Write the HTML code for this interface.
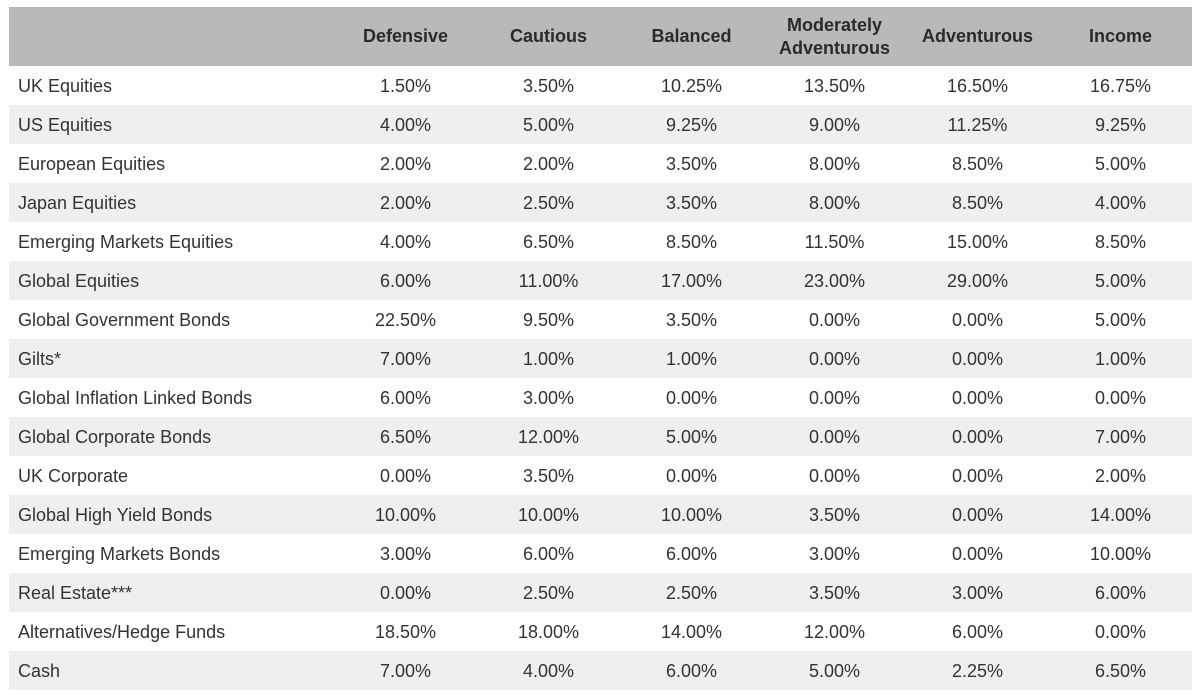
<!DOCTYPE html>
<html><head><meta charset="utf-8"><style>
body{margin:0;background:#fff;width:1197px;height:695px;overflow:hidden;font-family:"Liberation Sans",sans-serif;color:#333}
table{position:absolute;left:9px;top:7px;border-collapse:collapse;table-layout:fixed;width:1183px}
th{background:#b9b9b9;height:59px;font-size:18px;font-weight:bold;color:#2a2a2a;text-align:center;line-height:23px;padding:0}
td{height:39px;font-size:18px;text-align:center;padding:2px 0 0 0;box-sizing:border-box}
td:first-child{text-align:left;padding-left:9px}
tr:nth-child(even) td{background:#efefef}
</style></head><body>
<table>
<colgroup><col style="width:325px"><col style="width:143px"><col style="width:143px"><col style="width:143px"><col style="width:143px"><col style="width:143px"><col style="width:143px"></colgroup>
<thead><tr><th></th><th>Defensive</th><th>Cautious</th><th>Balanced</th><th>Moderately<br>Adventurous</th><th>Adventurous</th><th>Income</th></tr></thead>
<tbody>
<tr><td>UK Equities</td><td>1.50%</td><td>3.50%</td><td>10.25%</td><td>13.50%</td><td>16.50%</td><td>16.75%</td></tr>
<tr><td>US Equities</td><td>4.00%</td><td>5.00%</td><td>9.25%</td><td>9.00%</td><td>11.25%</td><td>9.25%</td></tr>
<tr><td>European Equities</td><td>2.00%</td><td>2.00%</td><td>3.50%</td><td>8.00%</td><td>8.50%</td><td>5.00%</td></tr>
<tr><td>Japan Equities</td><td>2.00%</td><td>2.50%</td><td>3.50%</td><td>8.00%</td><td>8.50%</td><td>4.00%</td></tr>
<tr><td>Emerging Markets Equities</td><td>4.00%</td><td>6.50%</td><td>8.50%</td><td>11.50%</td><td>15.00%</td><td>8.50%</td></tr>
<tr><td>Global Equities</td><td>6.00%</td><td>11.00%</td><td>17.00%</td><td>23.00%</td><td>29.00%</td><td>5.00%</td></tr>
<tr><td>Global Government Bonds</td><td>22.50%</td><td>9.50%</td><td>3.50%</td><td>0.00%</td><td>0.00%</td><td>5.00%</td></tr>
<tr><td>Gilts*</td><td>7.00%</td><td>1.00%</td><td>1.00%</td><td>0.00%</td><td>0.00%</td><td>1.00%</td></tr>
<tr><td>Global Inflation Linked Bonds</td><td>6.00%</td><td>3.00%</td><td>0.00%</td><td>0.00%</td><td>0.00%</td><td>0.00%</td></tr>
<tr><td>Global Corporate Bonds</td><td>6.50%</td><td>12.00%</td><td>5.00%</td><td>0.00%</td><td>0.00%</td><td>7.00%</td></tr>
<tr><td>UK Corporate</td><td>0.00%</td><td>3.50%</td><td>0.00%</td><td>0.00%</td><td>0.00%</td><td>2.00%</td></tr>
<tr><td>Global High Yield Bonds</td><td>10.00%</td><td>10.00%</td><td>10.00%</td><td>3.50%</td><td>0.00%</td><td>14.00%</td></tr>
<tr><td>Emerging Markets Bonds</td><td>3.00%</td><td>6.00%</td><td>6.00%</td><td>3.00%</td><td>0.00%</td><td>10.00%</td></tr>
<tr><td>Real Estate***</td><td>0.00%</td><td>2.50%</td><td>2.50%</td><td>3.50%</td><td>3.00%</td><td>6.00%</td></tr>
<tr><td>Alternatives/Hedge Funds</td><td>18.50%</td><td>18.00%</td><td>14.00%</td><td>12.00%</td><td>6.00%</td><td>0.00%</td></tr>
<tr><td>Cash</td><td>7.00%</td><td>4.00%</td><td>6.00%</td><td>5.00%</td><td>2.25%</td><td>6.50%</td></tr>
</tbody></table>
</body></html>
